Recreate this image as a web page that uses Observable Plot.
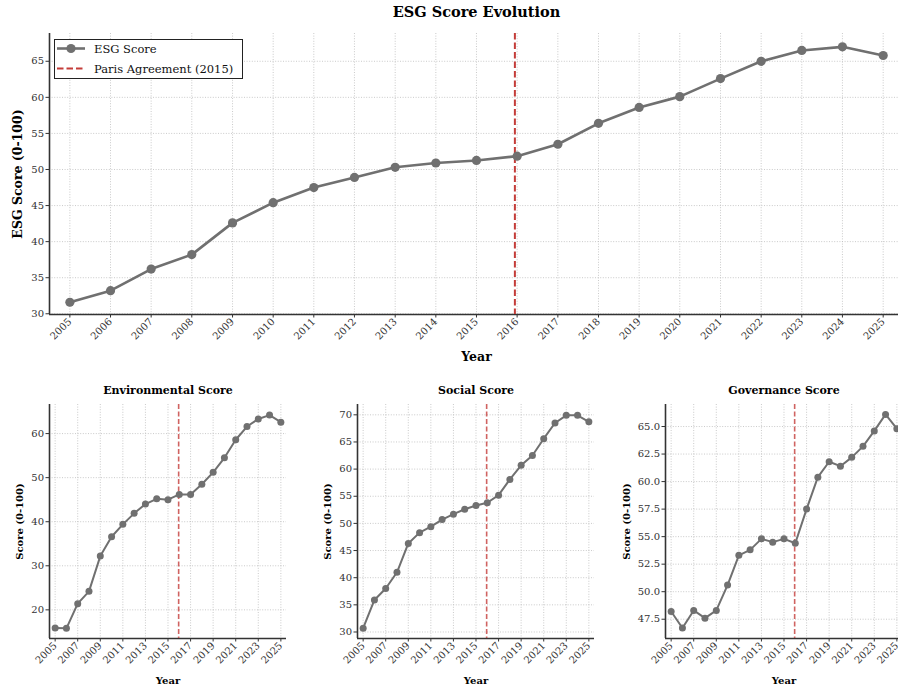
<!DOCTYPE html>
<html>
<head>
<meta charset="utf-8">
<script src="https://cdn.jsdelivr.net/npm/d3@7"></script>
<script src="https://cdn.jsdelivr.net/npm/@observablehq/plot@0.6"></script>
<style>
  html, body { margin: 0; padding: 0; background: #fff; }
  #root { position: relative; width: 898px; height: 689px; overflow: hidden; background: #fff; font-family: "DejaVu Serif", serif; }
  .panel { position: absolute; }
  .legend { position: absolute; left: 54px; top: 39px; }
</style>
</head>
<body>
<div id="root"></div>
<script>
// ---------- data ----------
const years = [2005, 2006, 2007, 2008, 2009, 2010, 2011, 2012, 2013, 2014, 2015,
               2016, 2017, 2018, 2019, 2020, 2021, 2022, 2023, 2024, 2025];
const esgScore = [31.6, 33.2, 36.2, 38.2, 42.6, 45.4, 47.5, 48.9, 50.3, 50.9, 51.25,
                  51.85, 53.5, 56.4, 58.6, 60.1, 62.6, 65.0, 66.5, 67.0, 65.8];
const envScore = [15.9, 15.8, 21.4, 24.2, 32.2, 36.6, 39.4, 41.9, 44.0, 45.2, 45.0,
                  46.2, 46.2, 48.5, 51.2, 54.5, 58.6, 61.6, 63.3, 64.2, 62.6];
const socScore = [30.7, 35.9, 38.0, 41.0, 46.3, 48.3, 49.4, 50.7, 51.7, 52.6, 53.3,
                  53.8, 55.2, 58.1, 60.7, 62.5, 65.6, 68.5, 69.9, 69.9, 68.7];
const govScore = [48.2, 46.7, 48.3, 47.6, 48.3, 50.6, 53.3, 53.8, 54.8, 54.5, 54.8,
                  54.4, 57.5, 60.4, 61.8, 61.4, 62.2, 63.2, 64.6, 66.1, 64.8];
const parisDate = "2015-12-12";
const topTickYears = years;
const bottomTickYears = [2005, 2007, 2009, 2011, 2013, 2015, 2017, 2019, 2021, 2023, 2025];
const esgYTicks = [30, 35, 40, 45, 50, 55, 60, 65];
const envYTicks = [20, 30, 40, 50, 60];
const socYTicks = [30, 35, 40, 45, 50, 55, 60, 65, 70];
const govYTicks = [47.5, 50.0, 52.5, 55.0, 57.5, 60.0, 62.5, 65.0];

// ---------- helpers ----------
const yd = y => new Date(Date.UTC(y, 0, 1));
const fracDate = f => {
  const y0 = Math.floor(f);
  const a = Date.UTC(y0, 0, 1), b = Date.UTC(y0 + 1, 0, 1);
  return new Date(a + (f - y0) * (b - a));
};
const xDomain = [fracDate(2004.5), fracDate(2025.5)];
const LINE = "#707070";
const AXIS = "#333333";
const RED = "#c43c39";

function panel({values, yDomain, yTicks, yFormat, xTicks, width, height, margins,
                title, titleSize, titleDy, yLabel, yLabelDx, labelSize, xLabelDy,
                tickFont, lineW, dotR, redW, redDash, redOpacity}) {
  const data = years.map((y, i) => ({date: yd(y), v: values[i]}));
  const xt = xTicks.map(yd);
  const lbl = {fontWeight: "bold", fill: "#000", text: d => d, lineAnchor: "middle", textAnchor: "middle"};
  const marks = [
    Plot.gridX(xt, {stroke: "#bdbdbd", strokeOpacity: 1, strokeDasharray: "1,1.6", strokeWidth: 0.8}),
    Plot.gridY(yTicks, {stroke: "#bdbdbd", strokeOpacity: 1, strokeDasharray: "1,1.6", strokeWidth: 0.8}),
    Plot.axisX({ticks: xt, tickFormat: d3.utcFormat("%Y"), tickRotate: -45, tickSize: 3.5,
                tickPadding: 2, fontSize: tickFont, label: null, fill: "#333"}),
    Plot.axisY({ticks: yTicks, tickFormat: yFormat, tickSize: 3.5, tickPadding: 2,
                fontSize: tickFont, label: null, fill: "#333"}),
    Plot.ruleX([xDomain[0]], {stroke: AXIS, strokeWidth: 1.6}),
    Plot.ruleY([yDomain[0]], {stroke: AXIS, strokeWidth: 1.6}),
    Plot.ruleX([new Date(parisDate)], {stroke: RED, strokeWidth: redW, strokeDasharray: redDash, strokeOpacity: redOpacity}),
    Plot.line(data, {x: "date", y: "v", stroke: LINE, strokeWidth: lineW}),
    Plot.dot(data, {x: "date", y: "v", r: dotR, fill: LINE, stroke: "none"}),
    Plot.text([yLabel], {...lbl, frameAnchor: "left", dx: yLabelDx, rotate: -90, fontSize: labelSize}),
    Plot.text(["Year"], {...lbl, frameAnchor: "bottom", dy: xLabelDy, fontSize: labelSize})
  ];
  if (title) marks.push(Plot.text([title], {...lbl, frameAnchor: "top", dy: titleDy, fontSize: titleSize}));
  return Plot.plot({
    width, height,
    marginLeft: margins[0], marginRight: margins[1], marginTop: margins[2], marginBottom: margins[3],
    style: {fontFamily: "DejaVu Serif, serif", background: "transparent", color: AXIS, maxWidth: "none", overflow: "visible"},
    x: {type: "utc", domain: xDomain},
    y: {domain: yDomain},
    marks
  });
}

const root = document.getElementById("root");
function place(el, left, top) {
  const d = document.createElement("div");
  d.className = "panel";
  d.style.left = left + "px";
  d.style.top = top + "px";
  d.appendChild(el);
  root.appendChild(d);
}

// top chart
place(panel({
  values: esgScore, yDomain: [29.9, 68.85], yTicks: esgYTicks, yFormat: d3.format("d"),
  xTicks: topTickYears, width: 903, height: 372, margins: [49, 0, 33, 58],
  title: "ESG Score Evolution", titleSize: 14.5, titleDy: -21,
  yLabel: "ESG Score (0-100)", yLabelDx: -32, labelSize: 12.5, xLabelDy: 42,
  tickFont: 10, lineW: 2.6, dotR: 4.6, redW: 2, redDash: "6.5,3", redOpacity: 1
}), 0, 0);

// bottom panels
const bottomCommon = {xTicks: bottomTickYears, width: 0, height: 309, titleSize: 11, titleDy: -14,
  yLabel: "Score (0-100)", labelSize: 10, xLabelDy: 42, tickFont: 10,
  lineW: 2, dotR: 3.5, redW: 1.6, redDash: "5,2.5", redOpacity: 0.8};

place(panel(Object.assign({}, bottomCommon, {
  values: envScore, yDomain: [13.5, 66.6], yTicks: envYTicks, yFormat: d3.format("d"),
  width: 300, margins: [49, 14, 24, 51], title: "Environmental Score", yLabelDx: -30
})), 0, 380);

place(panel(Object.assign({}, bottomCommon, {
  values: socScore, yDomain: [28.8, 71.9], yTicks: socYTicks, yFormat: d3.format("d"),
  width: 300, margins: [57, 6, 24, 51], title: "Social Score", yLabelDx: -30
})), 300, 380);

place(panel(Object.assign({}, bottomCommon, {
  values: govScore, yDomain: [45.75, 67.0], yTicks: govYTicks, yFormat: d3.format(".1f"),
  width: 304, margins: [67, 0, 24, 51], title: "Governance Score", yLabelDx: -39
})), 598, 380);

// legend
const lg = document.createElementNS("http://www.w3.org/2000/svg", "svg");
lg.setAttribute("width", 190);
lg.setAttribute("height", 41);
lg.innerHTML = `
  <rect x="0.5" y="0.5" width="188" height="39" fill="#fff" stroke="#222" stroke-width="1"/>
  <line x1="3" y1="9.5" x2="31" y2="9.5" stroke="${LINE}" stroke-width="2.6"/>
  <circle cx="17" cy="9.5" r="4.6" fill="${LINE}"/>
  <text x="40" y="13.5" font-family="DejaVu Serif, serif" font-size="11.5" fill="#111">ESG Score</text>
  <line x1="3" y1="29.5" x2="31" y2="29.5" stroke="${RED}" stroke-width="2" stroke-dasharray="6.5,3"/>
  <text x="40" y="33.5" font-family="DejaVu Serif, serif" font-size="11.5" fill="#111">Paris Agreement (2015)</text>`;
const lgDiv = document.createElement("div");
lgDiv.className = "legend";
lgDiv.appendChild(lg);
root.appendChild(lgDiv);
</script>
</body>
</html>
